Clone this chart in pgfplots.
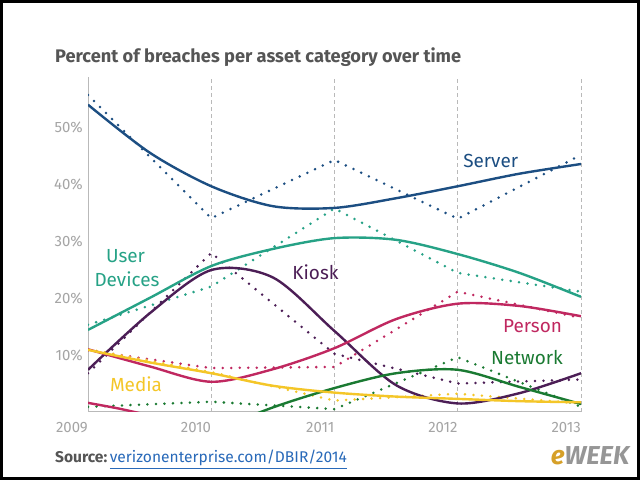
\documentclass[border=0pt]{standalone}
\usepackage{fontspec}
\setmainfont{Fira Sans}
\usepackage{pgfplots}
\pgfplotsset{compat=1.18}

\definecolor{serverc}{RGB}{28,78,130}
\definecolor{userc}{RGB}{38,162,134}
\definecolor{kioskc}{RGB}{76,30,86}
\definecolor{personc}{RGB}{192,40,96}
\definecolor{networkc}{RGB}{26,122,50}
\definecolor{mediac}{RGB}{244,198,40}
\definecolor{titlec}{RGB}{85,85,85}
\definecolor{tickc}{RGB}{165,165,165}
\definecolor{gridc}{RGB}{185,185,185}
\definecolor{linkc}{RGB}{40,105,185}
\definecolor{egold}{RGB}{214,160,40}
\definecolor{egray}{RGB}{150,150,150}

\begin{document}
\begin{tikzpicture}[x=1bp,y=1bp]
\path[use as bounding box] (0,0) rectangle (640,480);
\fill[white] (0,0) rectangle (640,480);

\begin{axis}[
  at={(88bp,68bp)}, anchor=south west,
  scale only axis, width=493bp, height=335.2bp,
  xmin=2009, xmax=2013, ymin=0, ymax=58.8,
  axis x line=bottom, axis y line=left,
  axis line style={draw=gridc, line width=1bp, -},
  xmajorgrids,
  grid style={draw=gridc, line width=0.8bp, dash pattern=on 4bp off 3bp},
  major tick length=0pt,
  xtick={2009,2010,2011,2012,2013},
  xticklabels={2009,2010,2011,2012,2013},
  ytick={10,20,30,40,50},
  yticklabels={10\%,20\%,30\%,40\%,50\%},
  /pgf/number format/assume math mode=true,
  tick label style={font=\fontsize{15}{16}\selectfont, text=tickc},
  xticklabel style={anchor=north east, inner sep=0pt, yshift=-10.5bp},
  yticklabel style={anchor=east, inner sep=0pt, xshift=-5bp},
  dots/.style={line width=2.8bp, dash pattern=on 0pt off 8.5bp, line cap=round},
  fit/.style={line width=2.4bp, smooth},
]

% yearly values (dotted, straight segments)
\addplot[dots, serverc]  coordinates {(2009,55.6)(2010,34.0)(2011,44.2)(2012,33.9)(2013,45.1)};
\addplot[dots, userc]    coordinates {(2009,15.3)(2010,22.0)(2011,35.7)(2012,24.4)(2013,21.1)};
\addplot[dots, kioskc]   coordinates {(2009,6.8)(2010,27.9)(2011,10.2)(2012,5.0)(2013,5.7)};
\addplot[dots, personc]  coordinates {(2009,10.8)(2010,7.7)(2011,7.9)(2012,21.1)(2013,16.5)};
\addplot[dots, networkc] coordinates {(2009,0.9)(2010,1.8)(2011,0.5)(2012,9.6)(2013,0.9)};
\addplot[dots, mediac]   coordinates {(2009,11.0)(2010,7.0)(2011,2.0)(2012,3.2)(2013,1.5)};

% trend curves
\addplot[fit, serverc] coordinates {(2009,53.9)(2009.5,45.5)(2010,39.6)(2010.5,36.1)(2011,35.8)(2011.5,37.5)(2012,39.6)(2012.5,41.8)(2013,43.5)};
\addplot[fit, userc] coordinates {(2009,14.4)(2009.5,20.0)(2010,25.6)(2010.5,28.6)(2011,30.5)(2011.5,30.2)(2012,27.7)(2012.5,24.4)(2013,20.2)};
\addplot[fit, kioskc] coordinates {(2009,7.4)(2009.5,17.3)(2010,24.9)(2010.5,23.6)(2011,14.2)(2011.5,4.7)(2012,1.5)(2012.5,3.3)(2013,6.8)};
\addplot[fit, personc] coordinates {(2009,11.0)(2009.5,8.0)(2010,5.3)(2010.5,7.5)(2011,11.2)(2011.5,16.3)(2012,19.0)(2012.5,18.6)(2013,16.8)};
\addplot[fit, personc] coordinates {(2009,1.6)(2009.25,0.6)(2009.5,-0.6)};
\addplot[fit, networkc] coordinates {(2010,-3.5)(2010.5,0.8)(2011,4.2)(2011.5,6.8)(2012,7.4)(2012.5,4.4)(2013,1.4)};
\addplot[fit, mediac] coordinates {(2009,10.9)(2009.5,8.7)(2010,6.8)(2010.5,4.6)(2011,3.4)(2011.5,2.7)(2012,2.3)(2012.5,1.9)(2013,1.7)};
\end{axis}

% series names
\begin{scope}[every node/.style={font=\fontsize{19}{22}\selectfont, inner sep=0pt, anchor=base}]
\node[text=serverc]  at (490.7,312) {Server};
\node[text=userc]    at (125.5,217) {User};
\node[text=userc]    at (127,193)   {Devices};
\node[text=kioskc]   at (315.5,200) {Kiosk};
\node[text=personc]  at (532.5,147) {Person};
\node[text=networkc] at (527,115)   {Network};
\node[text=mediac]   at (136,88)    {Media};
\end{scope}

% title and source
\node[anchor=base west, inner sep=0pt, text=titlec, font=\fontsize{18.3}{21}\selectfont\bfseries] at (55,417.4)
  {Percent of breaches per asset category over time};
\node[anchor=base west, inner sep=0pt, font=\fontsize{15.6}{18}\selectfont] at (55,17)
  {\textcolor{titlec}{\bfseries Source:}\,\textcolor{linkc}{\underline{verizonenterprise.com/DBIR/2014}}};

% logo
\node[inner sep=0pt, font=\fontsize{26}{26}\selectfont\bfseries\itshape] at (590,24)
  {\textcolor{egold}{e}\textcolor{egray}{WEEK}};

% frame
\draw[line width=3bp] (1.5,1.5) rectangle (638.5,478.5);
\end{tikzpicture}
\end{document}
